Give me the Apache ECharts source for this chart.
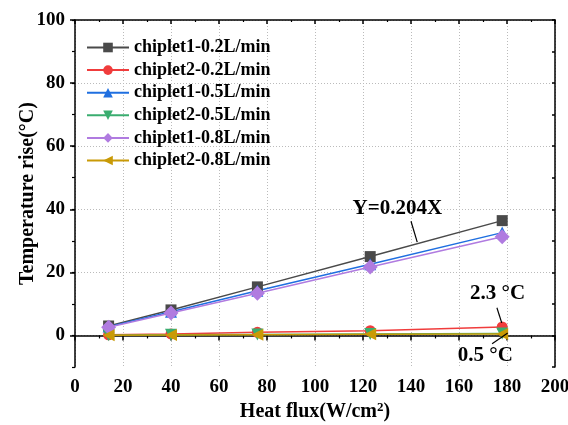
<!DOCTYPE html>
<html>
<head>
<meta charset="utf-8">
<script src="https://cdn.jsdelivr.net/npm/echarts@6/dist/echarts.min.js"></script>
<style>
  html, body { margin: 0; padding: 0; background: #fff; }
  #chart { width: 568px; height: 425px; }
</style>
</head>
<body>
<div id="chart"></div>
<script>
// data
const heatFlux = [14, 40, 76, 123, 178];
const c1_02 = [3.0, 8.1, 15.4, 25.0, 36.4];
const c2_02 = [0.2, 0.5, 1.0, 1.5, 2.7];
const c1_05 = [2.8, 7.5, 14.2, 22.6, 32.6];
const c2_05 = [0.1, 0.2, 0.3, 0.5, 0.6];
const c1_08 = [2.6, 7.1, 13.4, 21.7, 31.3];
const c2_08 = [0.1, 0.15, 0.25, 0.35, 0.5];

const seriesNames = ['chiplet1-0.2L/min', 'chiplet2-0.2L/min', 'chiplet1-0.5L/min',
  'chiplet2-0.5L/min', 'chiplet1-0.8L/min', 'chiplet2-0.8L/min'];
const yTicks = [0, 20, 40, 60, 80, 100];

// annotation anchors (data coordinates)
const fitLabel = [134.3, 40.2];
const fitArrow = [[140, 36.2], [142.6, 29.6]];
const maxLabel = [176.1, 13.2];
const maxArrow = [[175.8, 8.8], [177.8, 4.0]];
const minLabel = [171.0, -6.5];
const minArrow = [[173.8, -2.6], [180.3, 0.8]];

const FONT = '"Liberation Serif", "DejaVu Serif", serif';
const chart = echarts.init(document.getElementById('chart'));

const bold = { fontFamily: FONT, fontWeight: 'bold', color: '#000' };
const tickText = Object.assign({ fontSize: 19 }, bold);
const nameText = Object.assign({ fontSize: 20 }, bold);

function line(name, data, color, symbol, size, extra) {
  const pts = heatFlux.map((x, i) => [x, data[i]]);
  return Object.assign({
    name: name,
    type: 'line',
    data: pts,
    symbol: symbol,
    symbolSize: size,
    lineStyle: { width: 1.5, color: color },
    itemStyle: { color: color },
    emphasis: { disabled: true }
  }, extra || {});
}

function arrow(pair) {
  return {
    silent: true,
    symbol: ['none', 'arrow'],
    symbolSize: [0, 8],
    lineStyle: { color: '#000', width: 1.2, type: 'solid' },
    label: { show: false },
    data: [[{ coord: pair[0] }, { coord: pair[1] }]]
  };
}

function note(pos, text) {
  return {
    silent: true,
    symbol: 'circle',
    symbolSize: 0,
    label: Object.assign({ show: true, position: 'inside', formatter: text, fontSize: 21 }, bold),
    data: [{ coord: pos }]
  };
}

const option = {
  animation: false,
  grid: { left: 75, right: 13, top: 20, bottom: 58, outerBoundsMode: 'none' },
  legend: {
    orient: 'vertical',
    left: 81,
    top: 33.5,
    itemWidth: 42,
    itemHeight: 12,
    itemGap: 4.6,
    textStyle: Object.assign({ fontSize: 18 }, bold),
    data: seriesNames
  },
  xAxis: [
    {
      type: 'value',
      min: 0, max: 200, interval: 20,
      name: 'Heat flux(W/cm{sup|2})',
      nameLocation: 'middle',
      nameGap: 34,
      nameMoveOverlap: false,
      nameTextStyle: Object.assign({}, nameText, {
        rich: { sup: Object.assign({ fontSize: 13, verticalAlign: 'top', padding: [0, 0, 8, 0] }, bold) }
      }),
      axisLine: { lineStyle: { color: '#000', width: 1.5 } },
      axisTick: { length: 5, lineStyle: { color: '#000', width: 1.5 } },
      minorTick: { show: true, splitNumber: 2, length: 3, lineStyle: { color: '#000', width: 1.2 } },
      axisLabel: Object.assign({ margin: 11 }, tickText),
      splitLine: { show: true, lineStyle: { color: '#bbb', type: [1, 2], width: 1 } }
    },
    {
      type: 'value',
      position: 'top',
      min: 0, max: 200, interval: 20,
      axisLine: { onZero: false, lineStyle: { color: '#000', width: 1.5 } },
      axisTick: { inside: true, length: 4, lineStyle: { color: '#000', width: 1.5 } },
      minorTick: { show: true, splitNumber: 2, length: 2, lineStyle: { color: '#000', width: 1.2 } },
      axisLabel: { show: false },
      splitLine: { show: false }
    }
  ],
  yAxis: [
    {
      type: 'value',
      min: -10, max: 100, interval: 10,
      name: 'Temperature rise(°C)',
      nameLocation: 'middle',
      nameGap: 37,
      nameMoveOverlap: false,
      nameTextStyle: nameText,
      axisLine: { onZero: false, lineStyle: { color: '#000', width: 1.5 } },
      axisTick: { length: 5, customValues: yTicks, lineStyle: { color: '#000', width: 1.5 } },
      axisLabel: Object.assign({ margin: 10, customValues: yTicks }, tickText),
      splitLine: { show: true, lineStyle: { color: '#bbb', type: [1, 2], width: 1 } }
    },
    {
      type: 'value',
      position: 'right',
      min: -10, max: 100, interval: 10,
      axisLine: { show: true, onZero: false, lineStyle: { color: '#000', width: 1.5 } },
      axisTick: { show: true, inside: true, length: 3, lineStyle: { color: '#000', width: 1.5 } },
      axisLabel: { show: false },
      splitLine: { show: false }
    },
    {
      // minor ticks on the left axis
      type: 'value',
      position: 'left',
      min: -10, max: 100, interval: 10,
      axisLine: { show: false },
      axisTick: { show: true, length: 3, lineStyle: { color: '#000', width: 1.2 } },
      axisLabel: { show: false },
      splitLine: { show: false }
    }
  ],
  series: [
    line(seriesNames[0], c1_02, '#4a4a4a', 'rect', 11, {
      markPoint: note(fitLabel, 'Y=0.204X'),
      markLine: arrow(fitArrow)
    }),
    line(seriesNames[1], c2_02, '#f03c3c', 'circle', 11, {
      markPoint: note(maxLabel, '2.3 °C'),
      markLine: arrow(maxArrow)
    }),
    line(seriesNames[2], c1_05, '#1f6fe0', 'triangle', 12),
    line(seriesNames[3], c2_05, '#3aad6f', 'path://M0,0 L10,0 L5,9 Z', 12),
    line(seriesNames[4], c1_08, '#b07be0', 'diamond', 15),
    line(seriesNames[5], c2_08, '#c99a06', 'path://M0,5 L9,0 L9,10 Z', 12, {
      markPoint: note(minLabel, '0.5 °C'),
      markLine: arrow(minArrow)
    })
  ]
};

chart.setOption(option);
</script>
</body>
</html>
